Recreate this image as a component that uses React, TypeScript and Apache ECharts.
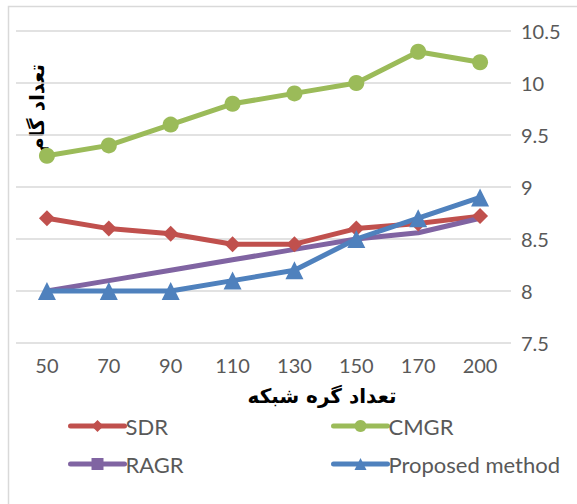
import React, { useEffect, useRef } from "react";
import * as echarts from "echarts";

const categories = ["50", "70", "90", "110", "130", "150", "170", "200"];
const sdr = [8.7, 8.6, 8.55, 8.45, 8.45, 8.6, 8.65, 8.72];
const cmgr = [9.3, 9.4, 9.6, 9.8, 9.9, 10.0, 10.3, 10.2];
const ragr = [8.0, 8.1, 8.2, 8.3, 8.4, 8.5, 8.56, 8.7];
const proposed = [8.0, 8.0, 8.0, 8.1, 8.2, 8.5, 8.7, 8.9];
const xTitle = "تعداد گره شبکه";
const yTitle = "تعداد گام";

const FONT = "Lato";
const TXT = "#595959";

export default function App() {
  const ref = useRef<HTMLDivElement>(null);
  useEffect(() => {
    const chart = echarts.init(ref.current!, null, { renderer: "svg" });
    const legendText = { color: TXT, fontFamily: FONT, fontSize: 22, padding: [0, 0, 0, -4] };
    const legendCommon = {
      orient: "vertical",
      top: 410,
      itemWidth: 54,
      itemHeight: 15,
      itemGap: 16,
      textStyle: legendText,
      lineStyle: { width: 5, cap: "round" },
    };
    chart.setOption({
      animation: false,
      backgroundColor: "#ffffff",
      grid: { left: 16, right: 66, top: 31, bottom: 161 },
      xAxis: {
        type: "category",
        data: categories,
        boundaryGap: true,
        axisLine: { show: false },
        axisTick: { show: false },
        axisLabel: { color: TXT, fontFamily: FONT, fontSize: 20, margin: 12 },
      },
      yAxis: {
        type: "value",
        position: "right",
        min: 7.5,
        max: 10.5,
        interval: 0.5,
        axisLine: { show: false },
        axisTick: { show: false },
        splitLine: { lineStyle: { color: "#d9d9d9", width: 1.5 } },
        axisLabel: { color: TXT, fontFamily: FONT, fontSize: 20, margin: 10 },
      },
      legend: [
        { ...legendCommon, data: ["SDR", "RAGR"], left: 63 },
        { ...legendCommon, data: ["CMGR", "Proposed method"], left: 326 },
      ],
      graphic: [
        {
          type: "rect",
          shape: { x: 8.5, y: 6.5, width: 700, height: 700 },
          style: { fill: "none", stroke: "#d9d9d9", lineWidth: 1.5 },
          silent: true,
        },
        {
          type: "text",
          x: 322,
          y: 396,
          style: {
            text: xTitle,
            fontFamily: "DejaVu Sans",
            fontWeight: "bold",
            fontSize: 20,
            fill: "#000000",
            align: "center",
            verticalAlign: "middle",
          },
        },
        {
          type: "text",
          x: 37,
          y: 108,
          rotation: Math.PI / 2,
          style: {
            text: yTitle,
            fontFamily: "DejaVu Sans",
            fontWeight: "bold",
            fontSize: 20,
            fill: "#000000",
            align: "center",
            verticalAlign: "middle",
          },
        },
      ],
      series: [
        {
          name: "SDR",
          type: "line",
          data: sdr,
          symbol: "diamond",
          symbolSize: 16,
          color: "#C0504D",
          lineStyle: { width: 5, color: "#C0504D" },
          itemStyle: { color: "#C0504D" },
        },
        {
          name: "CMGR",
          type: "line",
          data: cmgr,
          symbol: "circle",
          symbolSize: 16,
          color: "#9BBB59",
          lineStyle: { width: 5, color: "#9BBB59" },
          itemStyle: { color: "#9BBB59" },
        },
        {
          name: "RAGR",
          type: "line",
          data: ragr,
          symbol: "rect",
          symbolSize: 14,
          showSymbol: false,
          color: "#8064A2",
          lineStyle: { width: 5, color: "#8064A2" },
          itemStyle: { color: "#8064A2" },
        },
        {
          name: "Proposed method",
          type: "line",
          data: proposed,
          symbol: "triangle",
          symbolSize: 18,
          color: "#4F81BD",
          lineStyle: { width: 5, color: "#4F81BD" },
          itemStyle: { color: "#4F81BD" },
        },
      ],
    });
    return () => chart.dispose();
  }, []);
  return (
    <div
      ref={ref}
      style={{ position: "fixed", left: 0, top: 0, width: 577, height: 504 }}
    />
  );
}
